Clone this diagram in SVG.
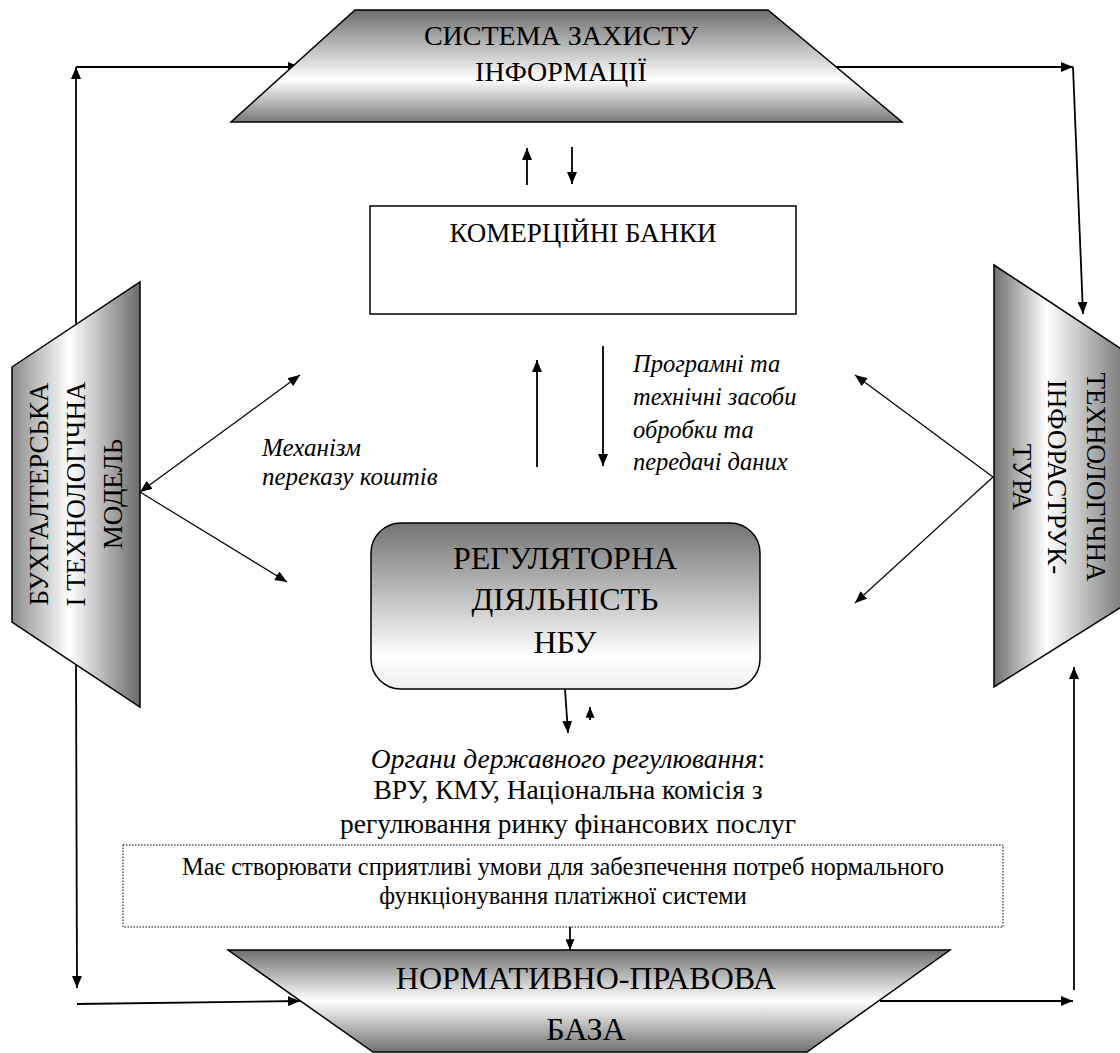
<svg xmlns="http://www.w3.org/2000/svg" width="1120" height="1053" viewBox="0 0 1120 1053">
<defs>
<linearGradient id="gTop" gradientUnits="userSpaceOnUse" x1="0" y1="10" x2="0" y2="122">
<stop offset="0" stop-color="#6e6e6e"/><stop offset="0.62" stop-color="#ffffff"/><stop offset="1" stop-color="#7a7a7a"/>
</linearGradient>
<linearGradient id="gBot" gradientUnits="userSpaceOnUse" x1="0" y1="950" x2="0" y2="1052">
<stop offset="0" stop-color="#707070"/><stop offset="0.5" stop-color="#ffffff"/><stop offset="1" stop-color="#707070"/>
</linearGradient>
<linearGradient id="gLeft" gradientUnits="userSpaceOnUse" x1="12" y1="0" x2="140" y2="0">
<stop offset="0" stop-color="#8c8c8c"/><stop offset="0.45" stop-color="#ffffff"/><stop offset="1" stop-color="#6a6a6a"/>
</linearGradient>
<linearGradient id="gRight" gradientUnits="userSpaceOnUse" x1="994" y1="0" x2="1120" y2="0">
<stop offset="0" stop-color="#707070"/><stop offset="0.42" stop-color="#ffffff"/><stop offset="1" stop-color="#808080"/>
</linearGradient>
<linearGradient id="gReg" gradientUnits="userSpaceOnUse" x1="0" y1="523" x2="0" y2="689">
<stop offset="0" stop-color="#737373"/><stop offset="0.8" stop-color="#ffffff"/><stop offset="1" stop-color="#efefef"/>
</linearGradient>
<marker id="ah" viewBox="0 0 12 10" refX="12" refY="5" markerWidth="12" markerHeight="10" markerUnits="userSpaceOnUse" orient="auto-start-reverse">
<path d="M0,0 L12,5 L0,10 z" fill="#000"/>
</marker>
<marker id="ahs" viewBox="0 0 12 10" refX="12" refY="5" markerWidth="11" markerHeight="9" markerUnits="userSpaceOnUse" orient="auto-start-reverse">
<path d="M0,0 L12,5 L0,10 z" fill="#000"/>
</marker>
</defs>
<style>
.t{font-family:"Liberation Serif","Times New Roman","DejaVu Serif",serif;fill:#000}
.i{font-style:italic}
.shape{stroke:#000;stroke-width:1.5}
.c{fill:none;stroke:#000;stroke-width:1.8}
.d{fill:none;stroke:#000;stroke-width:1.2}
</style>
<rect x="0" y="0" width="1120" height="1053" fill="#fff"/>

<g id="connectors">
<line class="c" x1="76" y1="330" x2="76" y2="67" marker-end="url(#ah)"/>
<line class="c" x1="76" y1="67" x2="300" y2="67" marker-end="url(#ah)"/>
<line class="c" x1="836" y1="67" x2="1073" y2="67" marker-end="url(#ah)"/>
<line class="c" x1="1073" y1="67" x2="1083" y2="314" marker-end="url(#ah)"/>
<line class="c" x1="76" y1="660" x2="77" y2="988" marker-end="url(#ah)"/>
<line class="c" x1="77" y1="1004" x2="300" y2="1001" marker-end="url(#ah)"/>
<line class="c" x1="880" y1="1001" x2="1073" y2="1001" marker-end="url(#ah)"/>
<line class="c" x1="1074" y1="990" x2="1074" y2="667" marker-end="url(#ah)"/>
<line class="c" x1="527" y1="185" x2="527" y2="148" marker-end="url(#ah)"/>
<line class="c" x1="572" y1="147" x2="572" y2="184" marker-end="url(#ah)"/>
<line class="c" x1="537" y1="467" x2="537" y2="360" marker-end="url(#ah)"/>
<line class="c" x1="603" y1="346" x2="603" y2="466" marker-end="url(#ah)"/>
<line class="c" x1="565" y1="689" x2="568" y2="733" marker-end="url(#ah)"/>
<line class="c" x1="590" y1="720" x2="590" y2="707" marker-end="url(#ahs)"/>
<line class="c" x1="570" y1="927" x2="570" y2="950" marker-end="url(#ahs)"/>
<line class="d" x1="140" y1="492" x2="300" y2="375" marker-start="url(#ah)" marker-end="url(#ah)"/>
<line class="d" x1="140" y1="492" x2="287" y2="582" marker-end="url(#ah)"/>
<line class="d" x1="993" y1="477" x2="855" y2="375" marker-end="url(#ah)"/>
<line class="d" x1="993" y1="477" x2="855" y2="603" marker-end="url(#ah)"/>
</g>

<g id="sys-zakhystu">
<polygon class="shape" points="355,10 768,10 902,122 231,122" fill="url(#gTop)"/>
<text class="t" font-size="28" text-anchor="middle" x="561" y="45">СИСТЕМА ЗАХИСТУ</text>
<text class="t" font-size="28" text-anchor="middle" x="561" y="81">ІНФОРМАЦІЇ</text>
</g>

<g id="komertsiini-banky">
<rect class="shape" x="370" y="206" width="426" height="108" fill="#fff"/>
<text class="t" font-size="27" text-anchor="middle" x="583" y="242">КОМЕРЦІЙНІ БАНКИ</text>
</g>

<g id="bukhgalterska">
<polygon class="shape" points="12,367 140,282 140,707 12,622" fill="url(#gLeft)"/>
<g transform="translate(0,494) rotate(-90)">
<text class="t" font-size="27" text-anchor="middle" x="0" y="48">БУХГАЛТЕРСЬКА</text>
<text class="t" font-size="27" text-anchor="middle" x="0" y="85">І ТЕХНОЛОГІЧНА</text>
<text class="t" font-size="27" text-anchor="middle" x="0" y="122">МОДЕЛЬ</text>
</g>
</g>

<g id="tekhnolohichna">
<polygon class="shape" points="994,265 1126,352 1126,604 994,687" fill="url(#gRight)"/>
<g transform="translate(0,477) rotate(90)">
<text class="t" font-size="27" text-anchor="middle" x="0" y="-1087">ТЕХНОЛОГІЧНА</text>
<text class="t" font-size="27" text-anchor="middle" x="0" y="-1048">ІНФОРАСТРУК-</text>
<text class="t" font-size="27" text-anchor="middle" x="0" y="-1013">ТУРА</text>
</g>
</g>

<g id="label-prohramni">
<text class="t i" font-size="24.5" x="633" y="372">Програмні та</text>
<text class="t i" font-size="24.5" x="633" y="405">технічні засоби</text>
<text class="t i" font-size="24.5" x="633" y="438">обробки та</text>
<text class="t i" font-size="24.5" x="633" y="470">передачі даних</text>
</g>

<g id="label-mekhanizm">
<text class="t i" font-size="25" x="262" y="456">Механізм</text>
<text class="t i" font-size="25" x="262" y="485">переказу коштів</text>
</g>

<g id="rehuliatorna">
<rect class="shape" x="371" y="523" width="389" height="166" rx="30" ry="30" fill="url(#gReg)"/>
<text class="t" font-size="32" text-anchor="middle" x="565" y="569">РЕГУЛЯТОРНА</text>
<text class="t" font-size="32" text-anchor="middle" x="565" y="610">ДІЯЛЬНІСТЬ</text>
<text class="t" font-size="32" text-anchor="middle" x="565" y="653">НБУ</text>
</g>

<g id="orhany">
<text class="t" font-size="27.5" text-anchor="middle" x="568" y="768"><tspan class="i">Органи державного регулювання</tspan>:</text>
<text class="t" font-size="27.5" text-anchor="middle" x="568" y="799">ВРУ, КМУ, Національна комісія з</text>
<text class="t" font-size="27.5" text-anchor="middle" x="568" y="833">регулювання ринку фінансових послуг</text>
</g>

<g id="mae-stvoriuvaty">
<rect x="123" y="845" width="880" height="82" fill="#fff" stroke="#000" stroke-width="1" stroke-dasharray="1.5,1.5"/>
<text class="t" font-size="24.4" text-anchor="middle" x="563" y="875">Має створювати сприятливі умови для забезпечення потреб нормального</text>
<text class="t" font-size="24.4" text-anchor="middle" x="563" y="904">функціонування платіжної системи</text>
</g>

<g id="normatyvno-pravova">
<polygon class="shape" points="228,950 950,950 807,1052 373,1052" fill="url(#gBot)"/>
<text class="t" font-size="32" text-anchor="middle" x="586" y="989">НОРМАТИВНО-ПРАВОВА</text>
<text class="t" font-size="32" text-anchor="middle" x="586" y="1040">БАЗА</text>
</g>
</svg>
